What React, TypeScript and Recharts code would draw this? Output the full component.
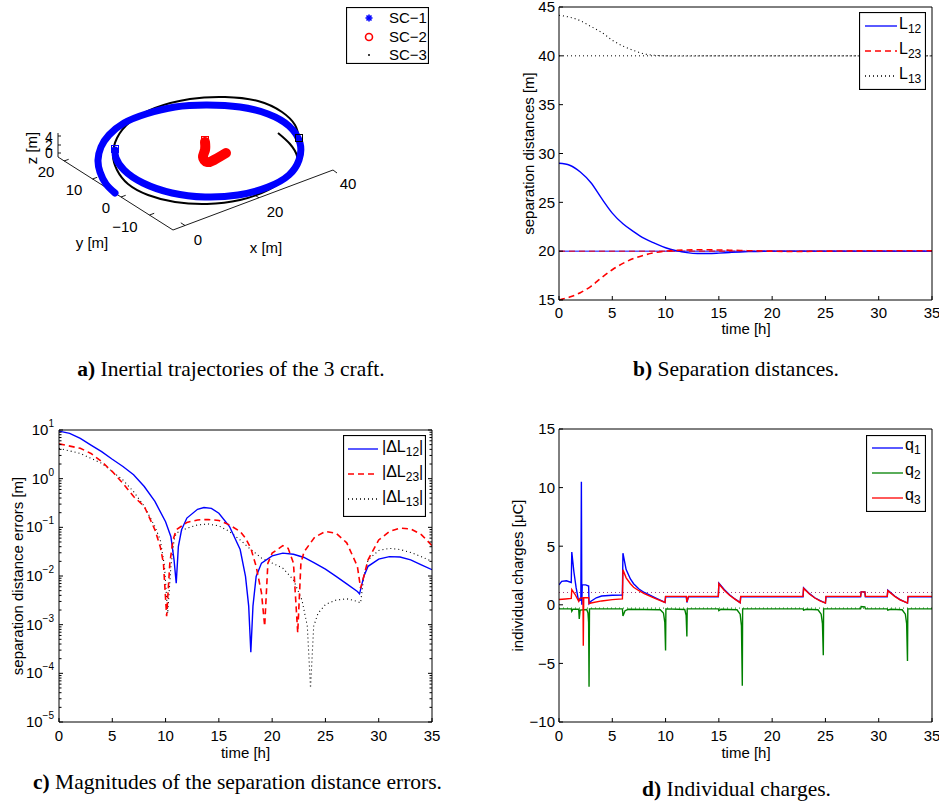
import React from "react";
import {
  LineChart,
  Line,
  XAxis,
  YAxis,
  ReferenceLine,
  Legend,
  ScatterChart,
  Scatter,
} from "recharts";

const FONT = "'Liberation Sans', Arial, Helvetica, sans-serif";
const SERIF = "'Liberation Serif', 'Times New Roman', serif";

// ---------- a) trajectories, read off the projected 3D view (picture units) ----------
const sc1Path = [
  [115, 193], [106, 184], [100, 172], [98, 160], [101, 147], [109, 135], [124, 123],
  [146, 114], [175, 107], [207, 105], [240, 107], [268, 114], [289, 126], [300, 143],
  [299, 160], [289, 175], [268, 187], [238, 195], [205, 197], [172, 193], [143, 183],
  [124, 170], [116, 158], [115, 150],
];
const sc2Path = [[205, 142], [205, 150], [203, 157], [207, 162], [214, 160], [221, 156], [226, 153]];
const sc3Path = [
  [278, 133], [290, 144], [297, 156], [296, 166], [288, 177], [268, 190], [240, 200],
  [207, 204], [175, 202], [148, 195], [128, 184], [117, 170], [113, 155], [117, 138],
  [130, 122], [155, 108], [190, 99], [225, 97], [258, 101], [282, 112], [295, 125], [299, 138],
];
const startMarks = [
  { u: 115, v: 149, color: "#0000ff" },
  { u: 205, v: 140, color: "#ff0000" },
  { u: 299, v: 138, color: "#000000" },
];
const boxLines = [
  [[58, 133], [58, 157]],
  [[58, 157], [173, 230]],
  [[173, 230], [333, 170]],
  [[185, 225.5], [180.8, 222.8]],
  [[259, 197.8], [254.8, 195.1]],
  [[333, 170], [337, 173]],
  [[64, 161], [68.7, 159.3]],
  [[92.5, 179], [97.2, 177.3]],
  [[121, 197], [125.7, 195.3]],
  [[149.5, 215], [154.2, 213.3]],
  [[58, 136], [61, 136]],
  [[58, 145], [61, 145]],
  [[58, 153], [61, 153]],
];
const boxLabels = [
  { u: 49, v: 136.5, text: "4", size: 14 },
  { u: 49, v: 144.5, text: "2", size: 14 },
  { u: 49, v: 152.5, text: "0", size: 14 },
  { u: 31, v: 148, text: "z [m]", angle: -90 },
  { u: 46, v: 171, text: "20" },
  { u: 74, v: 189, text: "10" },
  { u: 106, v: 207, text: "0" },
  { u: 125, v: 226, text: "−10" },
  { u: 92, v: 242, text: "y [m]" },
  { u: 198, v: 239, text: "0" },
  { u: 275, v: 211, text: "20" },
  { u: 348, v: 183, text: "40" },
  { u: 266, v: 247, text: "x [m]" },
];

// ---------- b) separation distances ----------
const distTime = [0, 1, 2, 3, 4, 5, 6, 7, 8, 9, 10, 11, 12, 13, 14, 15, 16, 17, 18, 20, 22, 25, 28, 31, 35];
const l12 = [29.0, 28.8, 28.1, 27.0, 25.4, 23.9, 22.8, 22.0, 21.3, 20.8, 20.35, 20.05, 19.85, 19.76, 19.76, 19.8, 19.86, 19.92, 19.96, 20.0, 20.0, 20.0, 20.0, 20.0, 20.0];
const l23 = [15.0, 15.3, 15.75, 16.4, 17.3, 18.1, 18.75, 19.25, 19.6, 19.85, 20.0, 20.08, 20.12, 20.14, 20.14, 20.12, 20.1, 20.07, 20.04, 20.0, 19.97, 20.0, 20.03, 20.05, 20.05];
const l13 = [44.15, 43.95, 43.6, 43.0, 42.4, 41.6, 41.0, 40.55, 40.2, 40.05, 40.0, 39.98, 39.98, 39.99, 40, 40, 40, 40, 40, 40, 40, 40, 40, 40, 40];

// ---------- c) separation distance errors (log) ----------
const err12Time = [0, 1, 2, 3, 4, 5, 6, 7, 8, 9, 10, 10.5, 10.8, 11.0, 11.2, 11.5, 12, 13, 13.6, 14.3, 15, 16, 17, 17.5, 17.8, 18.0, 18.2, 18.5, 19, 20, 21, 22, 23, 24, 25, 26, 27, 28, 28.2, 28.6, 29, 30, 31, 32, 33, 34, 35];
const err12 = [9.5, 8.5, 6.7, 4.9, 3.6, 2.5, 1.78, 1.2, 0.69, 0.34, 0.13, 0.064, 0.021, 0.0071, 0.04, 0.089, 0.155, 0.235, 0.255, 0.245, 0.195, 0.104, 0.035, 0.0098, 0.0024, 0.00027, 0.0024, 0.0098, 0.0184, 0.026, 0.0295, 0.028, 0.024, 0.0184, 0.0138, 0.0098, 0.0069, 0.0048, 0.0043, 0.0098, 0.0158, 0.0223, 0.025, 0.0245, 0.0215, 0.017, 0.0135];
const err23Time = [0, 2, 3, 4, 5, 6, 7, 8, 9, 9.5, 9.8, 10.1, 10.4, 10.7, 11, 12, 13, 14, 15, 16, 17, 17.5, 18, 18.5, 19.0, 19.3, 19.6, 20, 21, 21.5, 22, 22.4, 22.7, 23, 24, 25, 26, 27, 28, 28.3, 28.6, 29, 30, 31, 32, 33, 34, 35];
const err23 = [5.2, 4.2, 3.3, 2.24, 1.4, 0.8, 0.43, 0.27, 0.089, 0.04, 0.0184, 0.0015, 0.0184, 0.055, 0.089, 0.126, 0.142, 0.145, 0.138, 0.112, 0.082, 0.06, 0.037, 0.0158, 0.0045, 0.00093, 0.0184, 0.0295, 0.042, 0.037, 0.0184, 0.00068, 0.0184, 0.0316, 0.063, 0.082, 0.076, 0.048, 0.0158, 0.0056, 0.0098, 0.0215, 0.055, 0.082, 0.096, 0.093, 0.071, 0.042];
const err13Time = [0, 2, 4, 6, 7, 8, 9, 9.5, 9.9, 10.2, 10.5, 10.8, 11, 12, 13, 14, 15, 16, 17, 18, 19, 20, 21, 22, 22.8, 23.3, 23.6, 23.9, 24.3, 25, 26, 27, 28, 28.3, 28.6, 29, 30, 31, 32, 33, 34, 35];
const err13 = [4.2, 3.3, 2.07, 0.94, 0.54, 0.27, 0.104, 0.055, 0.0158, 0.0017, 0.0158, 0.055, 0.076, 0.096, 0.112, 0.117, 0.107, 0.082, 0.055, 0.035, 0.0235, 0.0184, 0.0145, 0.0083, 0.0032, 0.00093, 0.00005, 0.00093, 0.0017, 0.0026, 0.0032, 0.0034, 0.003, 0.0028, 0.0098, 0.0215, 0.0335, 0.037, 0.035, 0.0305, 0.025, 0.02];

// ---------- d) individual charges ----------
const q1Time = [0, 0.25, 0.7, 1.15, 1.2, 1.4, 1.6, 1.8, 1.9, 2.05, 2.1, 2.14, 2.18, 2.5, 2.78, 2.82, 3.0, 3.5, 4.0, 5.0, 5.95, 6.0, 6.3, 6.7, 7.0, 7.5, 8.0, 9.0, 9.95, 10.0, 11.95, 12.0, 12.15, 14.95, 15.0, 15.5, 16.0, 16.5, 17.0, 17.05, 22.9, 22.95, 23.5, 24.0, 24.5, 25.0, 25.05, 28.3, 28.35, 28.7, 28.75, 30.8, 30.85, 31.5, 32.0, 32.7, 32.75, 35];
const q1 = [1.7, 2.0, 2.05, 1.9, 4.5, 2.8, 1.5, 0.5, 0.35, 0.4, 10.5, 0.0, 1.7, 1.7, 1.6, 0.1, 0.3, 0.6, 0.75, 0.82, 0.83, 4.4, 3.0, 2.2, 1.8, 1.35, 1.05, 0.62, 0.2, 0.68, 0.68, 0.2, 0.68, 0.68, 1.85, 1.3, 0.85, 0.5, 0.18, 0.68, 0.68, 1.45, 0.95, 0.6, 0.35, 0.15, 0.68, 0.68, 1.1, 1.1, 0.68, 0.68, 1.25, 0.75, 0.45, 0.15, 0.68, 0.68];
const q2Time = [0, 1.15, 1.2, 1.3, 1.85, 1.9, 1.98, 2.6, 2.72, 2.78, 2.82, 2.86, 5.95, 6.0, 6.2, 6.5, 9.5, 9.8, 9.93, 10.0, 10.03, 11.8, 11.93, 12.0, 12.03, 14.95, 15.0, 15.2, 16.7, 17.0, 17.12, 17.2, 17.23, 22.9, 22.95, 23.2, 24.3, 24.6, 24.72, 24.8, 24.83, 28.3, 28.35, 28.7, 28.75, 30.8, 30.85, 31.1, 32.2, 32.5, 32.62, 32.7, 32.73, 35];
const q2 = [-0.35, -0.35, -0.55, -0.38, -0.38, -1.2, -0.45, -0.4, -0.7, -1.5, -7.0, -0.35, -0.35, -0.95, -0.5, -0.38, -0.42, -0.7, -1.5, -3.9, -0.35, -0.4, -0.9, -2.7, -0.35, -0.35, -0.5, -0.38, -0.42, -0.8, -1.8, -6.9, -0.35, -0.35, -0.45, -0.38, -0.42, -0.8, -1.6, -4.3, -0.35, -0.35, -0.15, -0.18, -0.35, -0.35, -0.45, -0.38, -0.42, -0.8, -1.6, -4.8, -0.35, -0.35];
const q3Time = [0, 0.6, 1.15, 1.2, 1.5, 1.85, 1.95, 2.25, 2.28, 2.32, 2.78, 2.82, 3.0, 4.0, 5.0, 5.95, 6.0, 6.3, 6.7, 7.0, 7.5, 8.0, 9.0, 9.95, 10.0, 11.95, 12.0, 12.15, 14.95, 15.0, 15.5, 16.0, 16.5, 17.0, 17.05, 22.9, 22.95, 23.5, 24.0, 24.5, 25.0, 25.05, 28.3, 28.35, 28.7, 28.75, 30.8, 30.85, 31.5, 32.0, 32.7, 32.75, 35];
const q3 = [0.45, 0.5, 0.55, 1.3, 0.9, 0.3, 0.55, 0.6, -3.5, 0.6, 0.6, 0.1, 0.15, 0.33, 0.44, 0.5, 3.0, 2.3, 1.8, 1.5, 1.2, 0.95, 0.55, 0.2, 0.72, 0.72, 0.25, 0.72, 0.72, 1.8, 1.25, 0.82, 0.48, 0.18, 0.72, 0.72, 1.4, 0.92, 0.58, 0.33, 0.15, 0.72, 0.72, 1.1, 1.1, 0.72, 0.72, 1.2, 0.72, 0.43, 0.15, 0.72, 0.72];

const timeTicks = [0, 5, 10, 15, 20, 25, 30, 35];
const distTicks = [15, 20, 25, 30, 35, 40, 45];
const errMajor = [1e-5, 1e-4, 1e-3, 1e-2, 1e-1, 1, 10];
const minorSteps = [2, 3, 4, 5, 6, 7, 8, 9];
const chargeTicks = [-10, -5, 0, 5, 10, 15];

const errTicks = [
  ...errMajor,
  ...errMajor.slice(0, -1).flatMap((d) => minorSteps.map((k) => k * d)),
];

const pts = (p: number[][]) => p.map(([u, v]) => ({ u, v }));
const series = (ts: number[], vs: number[]) => ts.map((t, i) => ({ t, v: vs[i] }));

const distData = distTime.map((t, i) => ({ t, l12: l12[i], l23: l23[i], l13: l13[i] }));

const tickStyle = { fill: "#000", fontSize: 15, fontFamily: FONT };
const fmtMinus = (v: number) => (v < 0 ? "−" + Math.abs(v) : String(v));

const yTitle = (text: string, x: number, cy: number) => () => (
  <text
    x={x}
    y={cy}
    transform={`rotate(-90, ${x}, ${cy})`}
    textAnchor="middle"
    dominantBaseline="central"
    fontSize={15}
    fontFamily={FONT}
    fill="#000"
  >
    {text}
  </text>
);
const xTitle = (cx: number, y: number) => () => (
  <text x={cx} y={y} textAnchor="middle" dominantBaseline="central" fontSize={15} fontFamily={FONT} fill="#000">
    time [h]
  </text>
);

const timeAxes = (height: number, margin: number, title: any) => [
  <XAxis
    key="xb"
    dataKey="t"
    type="number"
    domain={[0, 35]}
    ticks={timeTicks}
    interval={0}
    allowDataOverflow
    height={height}
    tickSize={-4}
    tickMargin={margin}
    stroke="#000"
    tick={tickStyle}
    label={title}
  />,
  <XAxis
    key="xt"
    xAxisId="top"
    orientation="top"
    dataKey="t"
    type="number"
    domain={[0, 35]}
    ticks={timeTicks}
    interval={0}
    allowDataOverflow
    height={1}
    tickSize={-4}
    tick={false}
    stroke="#000"
  />,
];

const LogTick = (props: any) => {
  const { x, y, payload, side } = props;
  const lg = Math.log10(payload.value);
  const exp = Math.round(lg);
  const major = Math.abs(lg - exp) < 1e-6;
  const len = major ? 4 : 2.5;
  const dir = side === "left" ? 1 : -1;
  return (
    <g>
      <line x1={x} x2={x + dir * len} y1={y} y2={y} stroke="#000" />
      {major && side === "left" && (
        <text x={x - 5} y={y + 5} textAnchor="end" fontSize={15} fontFamily={FONT} fill="#000">
          10
          <tspan dy={-8} fontSize={10}>
            {fmtMinus(exp)}
          </tspan>
        </text>
      )}
    </g>
  );
};

type Row = { y: number; mark: React.ReactNode; label: React.ReactNode };
const LegendBox = ({ w, h, rows }: { w: number; h: number; rows: Row[] }) => (
  <svg width={w} height={h} style={{ display: "block" }}>
    <rect x={0.5} y={0.5} width={w - 1} height={h - 1} fill="#fff" stroke="#000" strokeWidth={1.2} />
    {rows.map((r, i) => (
      <g key={i}>
        {r.mark}
        {r.label}
      </g>
    ))}
  </svg>
);

const sample = (x0: number, x1: number, y: number, color: string, dash?: string, sw = 1.3) => (
  <line x1={x0} x2={x1} y1={y} y2={y} stroke={color} strokeWidth={sw} strokeDasharray={dash} />
);
const subLabel = (x: number, y: number, main: string, sub: string, tail = "") => (
  <text x={x} y={y} fontSize={16} fontFamily={FONT} fill="#000">
    {main}
    <tspan dy={4} fontSize={12}>
      {sub}
    </tspan>
    {tail && <tspan dy={-4}>{tail}</tspan>}
  </text>
);

const noMarker = () => <g />;
const textMarker = (p: any) => (
  <text
    x={p.cx}
    y={p.cy}
    textAnchor="middle"
    dominantBaseline="central"
    fontSize={p.payload.size || 15}
    fontFamily={FONT}
    fill="#000"
    transform={p.payload.angle ? `rotate(${p.payload.angle}, ${p.cx}, ${p.cy})` : undefined}
  >
    {p.payload.text}
  </text>
);
const squareMarker = (p: any) => (
  <rect x={p.cx - 3.5} y={p.cy - 3.5} width={7} height={7} fill="none" stroke={p.payload.color} strokeWidth={1} />
);

const legendA = () => (
  <LegendBox
    w={83}
    h={57}
    rows={[
      {
        y: 11,
        mark: (
          <g stroke="#0000ff" strokeWidth={1.6}>
            <line x1={19.5} x2={26.5} y1={11} y2={11} />
            <line x1={23} x2={23} y1={7.5} y2={14.5} />
            <line x1={20.5} x2={25.5} y1={8.5} y2={13.5} />
            <line x1={20.5} x2={25.5} y1={13.5} y2={8.5} />
          </g>
        ),
        label: (
          <text x={43} y={16} fontSize={15} fontFamily={FONT}>
            SC−1
          </text>
        ),
      },
      {
        y: 30,
        mark: <circle cx={23} cy={30} r={3.5} fill="none" stroke="#ff0000" strokeWidth={1.6} />,
        label: (
          <text x={43} y={35} fontSize={15} fontFamily={FONT}>
            SC−2
          </text>
        ),
      },
      {
        y: 48,
        mark: <circle cx={23} cy={48} r={1} fill="#000" />,
        label: (
          <text x={43} y={53} fontSize={15} fontFamily={FONT}>
            SC−3
          </text>
        ),
      },
    ]}
  />
);

const legendB = () => (
  <LegendBox
    w={67}
    h={78}
    rows={[
      { y: 14, mark: sample(6, 38, 14, "#0000ff"), label: subLabel(40, 17, "L", "12") },
      { y: 39, mark: sample(6, 38, 39, "#ff0000", "6 4", 1.6), label: subLabel(40, 42, "L", "23") },
      { y: 64, mark: sample(6, 38, 64, "#000", "1 3"), label: subLabel(40, 67, "L", "13") },
    ]}
  />
);

const legendC = () => (
  <LegendBox
    w={83}
    h={82}
    rows={[
      { y: 14, mark: sample(5, 35, 14, "#0000ff"), label: subLabel(39, 17, "|ΔL", "12", "|") },
      { y: 39, mark: sample(5, 35, 39, "#ff0000", "6 4", 1.6), label: subLabel(39, 42, "|ΔL", "23", "|") },
      { y: 64, mark: sample(5, 35, 64, "#000", "1 3"), label: subLabel(39, 67, "|ΔL", "13", "|") },
    ]}
  />
);

const legendD = () => (
  <LegendBox
    w={60}
    h={77}
    rows={[
      { y: 13, mark: sample(6, 37, 13, "#0000ff"), label: subLabel(39, 15, "q", "1") },
      { y: 38, mark: sample(6, 37, 38, "#008000"), label: subLabel(39, 40, "q", "2") },
      { y: 63, mark: sample(6, 37, 63, "#ff0000"), label: subLabel(39, 65, "q", "3") },
    ]}
  />
);

const Caption = ({ cx, top, tag, text }: { cx: number; top: number; tag: string; text: string }) => (
  <div
    style={{
      position: "absolute",
      left: cx,
      top,
      transform: "translateX(-50%)",
      whiteSpace: "nowrap",
      fontFamily: SERIF,
      fontSize: 21.5,
      lineHeight: 1,
      color: "#000",
    }}
  >
    <b>{tag}</b> {text}
  </div>
);

export default function App() {
  return (
    <div style={{ position: "relative", width: 939, height: 805, background: "#fff", fontFamily: FONT }}>
      <style>{"body{margin:0;background:#fff}"}</style>

      {/* a) inertial trajectories */}
      <div style={{ position: "absolute", left: 0, top: 0 }}>
        <ScatterChart width={450} height={260} margin={{ top: 0, right: 0, bottom: 0, left: 0 }}>
          <XAxis type="number" dataKey="u" domain={[0, 450]} hide allowDataOverflow />
          <YAxis type="number" dataKey="v" domain={[0, 260]} reversed hide allowDataOverflow />
          {boxLines.map((seg, i) => (
            <Scatter
              key={`ax-${i}`}
              data={pts(seg)}
              line={{ stroke: "#000", strokeWidth: 0.9 }}
              shape={noMarker}
              isAnimationActive={false}
            />
          ))}
          <Scatter
            data={pts(sc3Path)}
            line={{ stroke: "#000", strokeWidth: 2 }}
            lineJointType="natural"
            shape={noMarker}
            isAnimationActive={false}
          />
          <Scatter
            data={pts(sc1Path)}
            line={{ stroke: "#0000ff", strokeWidth: 7, strokeLinecap: "round", strokeLinejoin: "round" }}
            lineJointType="natural"
            shape={noMarker}
            isAnimationActive={false}
          />
          <Scatter
            data={pts(sc2Path)}
            line={{ stroke: "#ff0000", strokeWidth: 10, strokeLinecap: "round", strokeLinejoin: "round" }}
            lineJointType="natural"
            shape={noMarker}
            isAnimationActive={false}
          />
          <Scatter data={startMarks} shape={squareMarker} isAnimationActive={false} />
          <Scatter data={boxLabels} shape={textMarker} isAnimationActive={false} />
          <Legend
            content={legendA}
            layout="vertical"
            align="center"
            verticalAlign="middle"
            wrapperStyle={{ left: 346, top: 7 }}
          />
        </ScatterChart>
      </div>

      {/* b) separation distances */}
      <div style={{ position: "absolute", left: 480, top: 0 }}>
        <LineChart width={459} height={345} data={distData} margin={{ top: 6, right: 6, bottom: 0, left: 0 }}>
          {timeAxes(45, 11, xTitle(266, 328))}
          <YAxis
            type="number"
            domain={[15, 45]}
            ticks={distTicks}
            interval={0}
            allowDataOverflow
            width={79}
            tickSize={-4}
            tickMargin={8}
            stroke="#000"
            tick={tickStyle}
            label={yTitle("separation distances [m]", 48, 153.5)}
          />
          <YAxis
            yAxisId="right"
            orientation="right"
            type="number"
            domain={[15, 45]}
            ticks={distTicks}
            interval={0}
            allowDataOverflow
            width={1}
            tickSize={-4}
            tick={false}
            stroke="#000"
          />
          <ReferenceLine y={40} stroke="#000" strokeWidth={1} strokeDasharray="1 3" />
          <ReferenceLine y={20} stroke="#0000ff" strokeWidth={1} />
          <ReferenceLine y={20} stroke="#ff0000" strokeWidth={1} strokeDasharray="6 4" />
          <Line type="monotone" dataKey="l13" stroke="#000" strokeWidth={1.1} strokeDasharray="1 3" dot={false} activeDot={false} isAnimationActive={false} />
          <Line type="monotone" dataKey="l12" stroke="#0000ff" strokeWidth={1.4} dot={false} activeDot={false} isAnimationActive={false} />
          <Line type="monotone" dataKey="l23" stroke="#ff0000" strokeWidth={1.6} strokeDasharray="6 4" dot={false} activeDot={false} isAnimationActive={false} />
          <Legend content={legendB} layout="vertical" align="center" verticalAlign="middle" wrapperStyle={{ left: 379, top: 12 }} />
        </LineChart>
      </div>

      {/* c) separation distance errors */}
      <div style={{ position: "absolute", left: 0, top: 410 }}>
        <LineChart width={450} height={360} margin={{ top: 19, right: 17, bottom: 0, left: 0 }}>
          {timeAxes(48, 12, xTitle(245.5, 342))}
          <YAxis
            type="number"
            scale="log"
            domain={[1e-5, 10]}
            ticks={errTicks}
            interval={0}
            allowDataOverflow
            width={59}
            tickSize={0}
            tickMargin={0}
            tickLine={false}
            stroke="#000"
            tick={(p: any) => <LogTick {...p} side="left" />}
            label={yTitle("separation distance errors [m]", 17.5, 166)}
          />
          <YAxis
            yAxisId="right"
            orientation="right"
            type="number"
            scale="log"
            domain={[1e-5, 10]}
            ticks={errTicks}
            interval={0}
            allowDataOverflow
            width={1}
            tickSize={0}
            tickMargin={0}
            tickLine={false}
            stroke="#000"
            tick={(p: any) => <LogTick {...p} side="right" />}
          />
          <Line data={series(err13Time, err13)} dataKey="v" stroke="#000" strokeWidth={1.1} strokeDasharray="1 3" dot={false} activeDot={false} isAnimationActive={false} />
          <Line data={series(err12Time, err12)} dataKey="v" stroke="#0000ff" strokeWidth={1.4} dot={false} activeDot={false} isAnimationActive={false} />
          <Line data={series(err23Time, err23)} dataKey="v" stroke="#ff0000" strokeWidth={1.6} strokeDasharray="6 4" dot={false} activeDot={false} isAnimationActive={false} />
          <Legend content={legendC} layout="vertical" align="center" verticalAlign="middle" wrapperStyle={{ left: 343, top: 25 }} />
        </LineChart>
      </div>

      {/* d) individual charges */}
      <div style={{ position: "absolute", left: 480, top: 420 }}>
        <LineChart width={459} height={350} margin={{ top: 8, right: 6, bottom: 0, left: 0 }}>
          {timeAxes(48, 12, xTitle(266, 332))}
          <YAxis
            type="number"
            domain={[-10, 15]}
            ticks={chargeTicks}
            interval={0}
            allowDataOverflow
            width={79}
            tickSize={-4}
            tickMargin={8}
            stroke="#000"
            tick={tickStyle}
            tickFormatter={fmtMinus}
            label={yTitle("individual charges [μC]", 37.5, 155.5)}
          />
          <YAxis
            yAxisId="right"
            orientation="right"
            type="number"
            domain={[-10, 15]}
            ticks={chargeTicks}
            interval={0}
            allowDataOverflow
            width={1}
            tickSize={-4}
            tick={false}
            stroke="#000"
          />
          <ReferenceLine y={1.05} stroke="#a04080" strokeWidth={1} strokeDasharray="1 3" />
          <ReferenceLine y={-0.28} stroke="#008000" strokeWidth={1} strokeDasharray="1 3" />
          <Line data={series(q1Time, q1)} dataKey="v" stroke="#0000ff" strokeWidth={1.4} dot={false} activeDot={false} isAnimationActive={false} />
          <Line data={series(q2Time, q2)} dataKey="v" stroke="#008000" strokeWidth={1.4} dot={false} activeDot={false} isAnimationActive={false} />
          <Line data={series(q3Time, q3)} dataKey="v" stroke="#ff0000" strokeWidth={1.4} dot={false} activeDot={false} isAnimationActive={false} />
          <Legend content={legendD} layout="vertical" align="center" verticalAlign="middle" wrapperStyle={{ left: 386, top: 15 }} />
        </LineChart>
      </div>

      <Caption cx={231} top={359} tag="a)" text="Inertial trajectories of the 3 craft." />
      <Caption cx={736} top={359} tag="b)" text="Separation distances." />
      <Caption cx={237.5} top={772} tag="c)" text="Magnitudes of the separation distance errors." />
      <Caption cx={736.5} top={779} tag="d)" text="Individual charges." />
    </div>
  );
}
